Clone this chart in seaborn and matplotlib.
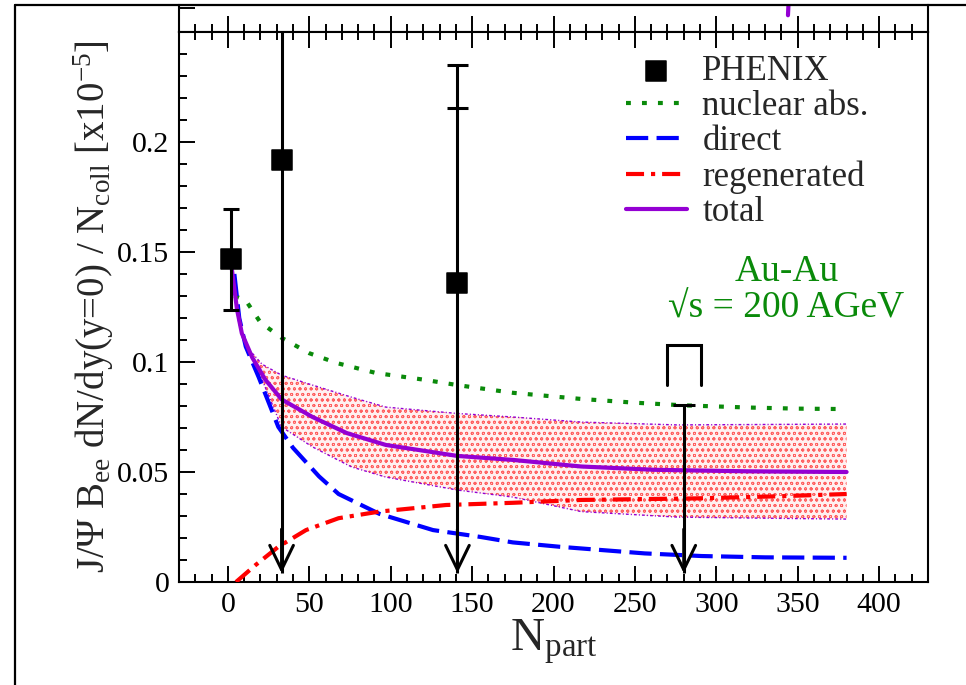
import numpy as np
import pandas as pd
import seaborn as sns
import matplotlib
matplotlib.use("Agg")
import matplotlib.pyplot as plt
from matplotlib.lines import Line2D

# ---------------- data ----------------
nuc_x = [4, 11, 20, 33, 50, 67, 91, 120, 141, 175, 217, 250, 280, 320, 350, 380]
nuc_y = [0.130, 0.128, 0.118, 0.111, 0.104, 0.0995, 0.095, 0.092, 0.0895, 0.086,
         0.0832, 0.0815, 0.0803, 0.0793, 0.0788, 0.0786]

dir_x = [4, 7, 11, 19, 31, 40, 56, 68, 93, 126, 155, 175, 204, 256, 291, 330, 380]
dir_y = [0.140, 0.120, 0.107, 0.093, 0.0705, 0.061, 0.048, 0.040, 0.031, 0.0236,
         0.0205, 0.018, 0.016, 0.013, 0.0118, 0.0112, 0.011]

reg_x = [5, 17, 31, 48, 68, 93, 134, 175, 217, 287, 340, 380]
reg_y = [0.0, 0.0077, 0.016, 0.0236, 0.029, 0.032, 0.035, 0.036, 0.0373, 0.038,
         0.039, 0.040]

tot_x = [2.5, 5.6, 8.6, 15, 23, 33, 52, 73, 97, 141, 175, 217, 262, 320, 380]
tot_y = [0.142, 0.124, 0.113, 0.102, 0.092, 0.083, 0.075, 0.0677, 0.0623, 0.0573,
         0.0555, 0.0525, 0.051, 0.0503, 0.050]

band_x = [15, 21, 33, 52, 76, 97, 141, 175, 217, 276, 330, 380]
band_hi = [0.104, 0.099, 0.094, 0.0895, 0.0840, 0.0795, 0.0766, 0.075, 0.0727,
           0.0714, 0.0716, 0.0718]
band_lo = [0.102, 0.092, 0.0705, 0.0614, 0.0523, 0.0477, 0.0418, 0.0386, 0.032,
           0.0295, 0.029, 0.0286]

phx_x = [2, 33, 141]
phx_y = [0.1468, 0.1918, 0.136]

err_x = [2, 33, 141, 280]
err_lo = [0.1236, 0.004, 0.004, 0.004]
err_hi = [0.1695, 0.30, 0.235, 0.0803]

cap_x = [2, 2, 141, 141, 280]
cap_y = [0.1695, 0.1236, 0.235, 0.2155, 0.0803]

arrow_x = [33, 141, 280]
arrow_tip = [0.004, 0.004, 0.004]

sys_x = [280]
sys_top = [0.1077]
sys_bottom = [0.0895]
sys_halfwidth = [10.5]

upper_x = [344.0, 344.3]
upper_y = [0.62, 1.0]

x_ticks = [0, 50, 100, 150, 200, 250, 300, 350, 400]
y_ticks = [0, 0.05, 0.1, 0.15, 0.2, 0.25]
y_ticklabels = ["0", "0.05", "0.1", "0.15", "0.2", ""]

legend_labels = ["PHENIX", "nuclear abs.", "direct", "regenerated", "total"]

# ---------------- style ----------------
sns.set_theme(style="ticks")
plt.rcParams['font.family'] = ['Liberation Serif', 'DejaVu Serif']
plt.rcParams['mathtext.fontset'] = 'custom'
plt.rcParams['mathtext.rm'] = 'Liberation Serif'
plt.rcParams['mathtext.it'] = 'Liberation Serif:italic'
plt.rcParams['mathtext.default'] = 'regular'
plt.rcParams['lines.scale_dashes'] = False
plt.rcParams['hatch.linewidth'] = 0.6
plt.rcParams['xtick.direction'] = 'in'
plt.rcParams['ytick.direction'] = 'in'
plt.rcParams['xtick.top'] = True
plt.rcParams['xtick.bottom'] = True
plt.rcParams['ytick.left'] = True
plt.rcParams['ytick.right'] = False
plt.rcParams['xtick.color'] = 'black'
plt.rcParams['ytick.color'] = 'black'

GREEN = '#0a8a0a'
BLUE = '#0000ff'
RED = '#ff0000'
PURPLE = '#9400d3'

W, H = 966, 685
fig = plt.figure(figsize=(W / 100, H / 100), dpi=100)
L, R, B, T = 179 / W, 928 / W, 1 - 582 / H, 1 - 32 / H
ax_up = fig.add_axes([L, T, R - L, (32 - 5) / H])
ax = fig.add_axes([L, B, R - L, T - B])

# band
ax.fill_between(band_x, band_lo, band_hi, facecolor='#fff0f0', edgecolor='#ff6060',
                hatch='ooo', linewidth=0, zorder=1)
for yy in (band_hi, band_lo):
    sns.lineplot(x=band_x, y=yy, ax=ax, color=PURPLE, lw=1.0, sort=False,
                 estimator=None, linestyle=(0, (2, 1.5, 0.8, 1.5)), zorder=2)

sns.lineplot(x=nuc_x, y=nuc_y, ax=ax, color=GREEN, lw=3, sort=False, estimator=None,
             linestyle=(0, (3.5, 8)), label=legend_labels[1], zorder=3)
sns.lineplot(x=dir_x, y=dir_y, ax=ax, color=BLUE, lw=3, sort=False, estimator=None,
             linestyle=(0, (16, 6)), label=legend_labels[2], zorder=3)
sns.lineplot(x=reg_x, y=reg_y, ax=ax, color=RED, lw=3, sort=False, estimator=None,
             linestyle=(0, (13, 5, 3, 5)), label=legend_labels[3], zorder=3)
sns.lineplot(x=tot_x, y=tot_y, ax=ax, color=PURPLE, lw=3, sort=False, estimator=None,
             label=legend_labels[4], zorder=4)

# PHENIX data: error bars, caps, arrows, systematic bracket
ax.vlines(err_x, err_lo, err_hi, color='black', lw=2.2, zorder=5)
ax.scatter(cap_x, cap_y, marker='_', s=[120, 120, 220, 220, 260], color='black',
           linewidths=2.2, zorder=5)
for xa, ya in zip(arrow_x, arrow_tip):
    ax.annotate("", xy=(xa, ya), xytext=(xa, ya + 0.02),
                arrowprops=dict(arrowstyle="->,head_length=1.75,head_width=0.85",
                                color='black', lw=2.2, mutation_scale=10,
                                shrinkA=0, shrinkB=0), zorder=5)
for sx, st, sb, sw in zip(sys_x, sys_top, sys_bottom, sys_halfwidth):
    ax.plot([sx - sw, sx - sw, sx + sw, sx + sw], [sb, st, st, sb], color='black',
            lw=2.2, solid_joinstyle='miter', zorder=5)
sns.scatterplot(x=phx_x, y=phx_y, ax=ax, marker='s', s=190, color='black',
                edgecolor='black', label=legend_labels[0], zorder=6)

# axes
ax.set_xlim(-30, 430)
ax.set_ylim(0, 0.25)
ax.set_xticks(x_ticks)
ax.set_xticks(np.arange(-20, 431, 10), minor=True)
ax.set_yticks(y_ticks)
ax.set_yticklabels(y_ticklabels)
ax.set_yticks(np.arange(0, 0.2501, 0.01), minor=True)
ax.xaxis.set_ticks_position('both')
ax.yaxis.set_ticks_position('left')
ax.tick_params(which='both', direction='in', labelsize=21.5, pad=7,
               colors='black', width=1.4, labeltop=False)
ax.tick_params(which='major', length=11.5)
ax.tick_params(which='minor', length=6)
for s in ax.spines.values():
    s.set_visible(True)
    s.set_linewidth(1.5)
    s.set_color('black')

ax.set_xlabel(r"N$_{part}$", fontsize=34, labelpad=0)
ax.set_ylabel(r"J/Ψ B$_{ee}$ dN/dy(y=0) / N$_{coll}$ [x10$^{-5}$]", fontsize=28,
              labelpad=1)

ax.text(343, 0.1327, "Au-Au\n√s = 200 AGeV", color=GREEN, fontsize=27,
        ha='center', va='center', linespacing=1.1)

# legend
h, l = ax.get_legend_handles_labels()
order = [l.index(lab) for lab in legend_labels]
ax.legend([h[i] for i in order], [l[i] for i in order], loc='upper left',
          bbox_to_anchor=(626 / W, 1 - 55 / H), bbox_transform=fig.transFigure,
          frameon=False, fontsize=25, handlelength=1.75, labelspacing=0.06,
          handletextpad=0.45, borderpad=0, borderaxespad=0)

# upper (cropped) panel
ax_up.set_xlim(-30, 430)
ax_up.set_ylim(0, 1)
sns.lineplot(x=upper_x, y=upper_y, ax=ax_up, color=PURPLE, lw=3, sort=False,
             estimator=None)
ax_up.set_xticks(x_ticks)
ax_up.set_xticks(np.arange(-20, 431, 10), minor=True)
ax_up.set_yticks([0.9])
ax_up.xaxis.set_ticks_position('bottom')
ax_up.yaxis.set_ticks_position('left')
ax_up.tick_params(which='both', direction='in', labelbottom=False, labelleft=False,
                  width=1.4, colors='black')
ax_up.tick_params(which='major', length=11.5)
ax_up.tick_params(which='minor', length=6)
ax_up.set_xlabel("")
ax_up.set_ylabel("")
ax_up.spines['top'].set_visible(False)
for s in ('left', 'right', 'bottom'):
    ax_up.spines[s].set_visible(True)
    ax_up.spines[s].set_linewidth(1.5)
    ax_up.spines[s].set_color('black')

# outer frame of the screenshot
fig.add_artist(Line2D([15 / W, 15 / W], [0, 1 - 5 / H], transform=fig.transFigure,
                      color='black', lw=1.6))
fig.add_artist(Line2D([15 / W, 1], [1 - 5 / H, 1 - 5 / H], transform=fig.transFigure,
                      color='black', lw=1.6))

fig.savefig("out.png", dpi=100, facecolor='white')
